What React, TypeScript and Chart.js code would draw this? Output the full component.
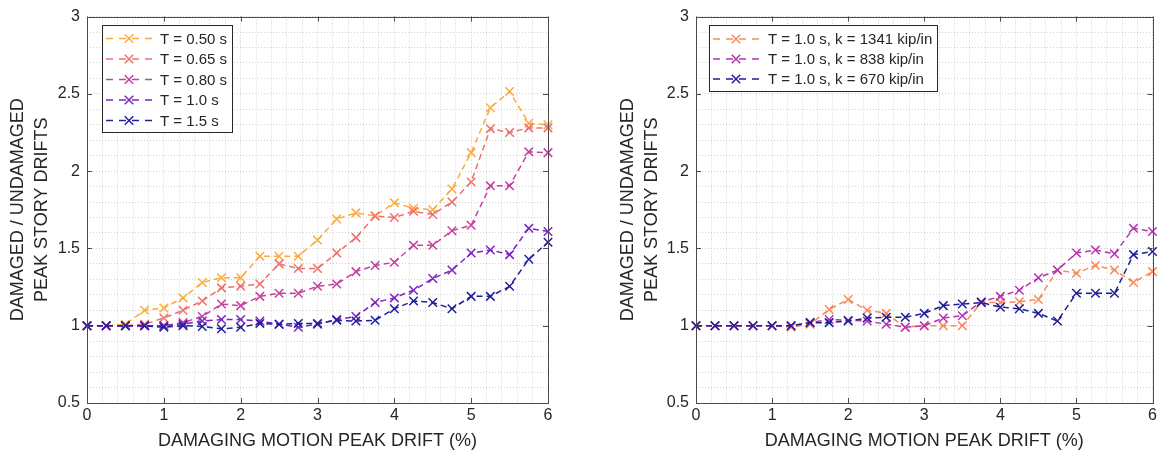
import React, { useEffect, useRef } from 'react';
import { Chart, registerables } from 'chart.js';

Chart.register(...registerables);

// ---------- data ----------
const DRIFT = [0, 0.25, 0.5, 0.75, 1, 1.25, 1.5, 1.75, 2, 2.25, 2.5, 2.75, 3, 3.25, 3.5, 3.75, 4, 4.25, 4.5, 4.75, 5, 5.25, 5.5, 5.75, 6];

const T050 = [1, 1, 1.01, 1.1, 1.115, 1.18, 1.28, 1.31, 1.31, 1.45, 1.45, 1.45, 1.555, 1.69, 1.73, 1.71, 1.795, 1.76, 1.75, 1.885, 2.12, 2.41, 2.515, 2.31, 2.3];
const T065 = [1, 1, 1, 1.01, 1.05, 1.1, 1.16, 1.245, 1.256, 1.27, 1.4, 1.37, 1.37, 1.47, 1.57, 1.71, 1.7, 1.74, 1.72, 1.8, 1.93, 2.275, 2.25, 2.28, 2.28];
const T080 = [1, 1, 1, 1, 1.0, 1.02, 1.06, 1.14, 1.13, 1.19, 1.21, 1.21, 1.255, 1.27, 1.35, 1.39, 1.41, 1.52, 1.52, 1.615, 1.65, 1.905, 1.905, 2.125, 2.12];
const T100 = [1, 1, 1, 1, 1.0, 1.01, 1.03, 1.04, 1.04, 1.03, 1.01, 0.99, 1.01, 1.04, 1.06, 1.15, 1.18, 1.23, 1.305, 1.36, 1.47, 1.49, 1.46, 1.63, 1.61];
const T150 = [1, 1, 1, 1, 0.99, 1.0, 0.995, 0.98, 0.99, 1.015, 1.01, 1.015, 1.015, 1.035, 1.03, 1.035, 1.11, 1.16, 1.15, 1.11, 1.19, 1.19, 1.255, 1.43, 1.54];

const K1341 = [1, 1, 1, 1, 1, 0.99, 1.01, 1.105, 1.17, 1.1, 1.08, 0.99, 1.0, 1.0, 1.0, 1.15, 1.15, 1.155, 1.17, 1.36, 1.34, 1.39, 1.36, 1.28, 1.35];
const K838 = [1, 1, 1, 1, 1, 1, 1.02, 1.04, 1.035, 1.03, 1.01, 0.99, 1.0, 1.05, 1.065, 1.155, 1.19, 1.23, 1.31, 1.36, 1.47, 1.49, 1.465, 1.63, 1.61];
const K670 = [1, 1, 1, 1, 1, 1, 1.02, 1.02, 1.03, 1.05, 1.055, 1.055, 1.08, 1.13, 1.14, 1.15, 1.12, 1.11, 1.08, 1.03, 1.21, 1.21, 1.21, 1.46, 1.48];

const LEFT_LABELS = ['T = 0.50 s', 'T = 0.65 s', 'T = 0.80 s', 'T = 1.0 s', 'T = 1.5 s'];
const LEFT_COLORS = ['#FDAA3C', '#EE716C', '#C5409F', '#7B24C4', '#20209C'];
const RIGHT_LABELS = ['T = 1.0 s, k = 1341 kip/in', 'T = 1.0 s, k = 838 kip/in', 'T = 1.0 s, k = 670 kip/in'];
const RIGHT_COLORS = ['#F7895A', '#B535B3', '#1F1F96'];

const X_TITLE = 'DAMAGING MOTION PEAK DRIFT (%)';
const Y_TITLE = ['DAMAGED / UNDAMAGED', 'PEAK STORY DRIFTS'];

const FONT = "'Liberation Sans', Arial, Helvetica, sans-serif";
const TEXT = '#262626';

// ---------- plugins ----------
function drawCross(ctx: CanvasRenderingContext2D, x: number, y: number, r: number) {
  const d = r * Math.SQRT1_2;
  ctx.beginPath();
  ctx.moveTo(x - d, y - d);
  ctx.lineTo(x + d, y + d);
  ctx.moveTo(x + d, y - d);
  ctx.lineTo(x - d, y + d);
  ctx.stroke();
}

const framePlugin = {
  id: 'frame',
  afterDatasetsDraw(chart: any) {
    const { ctx, chartArea: a, scales } = chart;
    ctx.save();
    ctx.strokeStyle = '#4a4a4a';
    ctx.lineWidth = 1;
    ctx.setLineDash([]);
    ctx.strokeRect(Math.round(a.left) + 0.5, Math.round(a.top) + 0.5, Math.round(a.right - a.left), Math.round(a.bottom - a.top));
    const L = 5;
    ctx.beginPath();
    for (let v = 0; v <= 6; v += 1) {
      const px = Math.round(scales.x.getPixelForValue(v)) + 0.5;
      ctx.moveTo(px, a.bottom);
      ctx.lineTo(px, a.bottom - L);
      ctx.moveTo(px, a.top);
      ctx.lineTo(px, a.top + L);
    }
    for (let i = 0; i <= 5; i++) {
      const v = 0.5 + i * 0.5;
      const py = Math.round(scales.y.getPixelForValue(v)) + 0.5;
      ctx.moveTo(a.left, py);
      ctx.lineTo(a.left + L, py);
      ctx.moveTo(a.right, py);
      ctx.lineTo(a.right - L, py);
    }
    ctx.stroke();
    ctx.restore();
  },
  afterDraw(chart: any, _args: any, opts: any) {
    const lg = opts.legend;
    if (!lg) return;
    const { ctx } = chart;
    ctx.save();
    ctx.fillStyle = '#ffffff';
    ctx.fillRect(lg.x, lg.y, lg.w, lg.h);
    ctx.strokeStyle = '#262626';
    ctx.lineWidth = 1;
    ctx.strokeRect(lg.x + 0.5, lg.y + 0.5, lg.w, lg.h);
    ctx.font = `15px ${FONT}`;
    ctx.textBaseline = 'middle';
    ctx.textAlign = 'left';
    lg.labels.forEach((label: string, i: number) => {
      const y = lg.row0 + i * lg.gap;
      ctx.strokeStyle = lg.colors[i];
      ctx.lineWidth = 1.5;
      ctx.setLineDash([7, 6]);
      ctx.beginPath();
      ctx.moveTo(lg.line0, y);
      ctx.lineTo(lg.line1, y);
      ctx.stroke();
      ctx.setLineDash([]);
      drawCross(ctx, (lg.line0 + lg.line1) / 2, y, 6);
      ctx.fillStyle = TEXT;
      ctx.fillText(label, lg.text, y + 1);
    });
    ctx.restore();
  },
};

// ---------- config ----------
function makeConfig(series: number[][], colors: string[], yAxisWidth: number, yTitlePad: number, padRight: number, legend: any) {
  const n = series.length;
  return {
    type: 'line' as const,
    data: {
      datasets: series.map((vals, i) => ({
        data: DRIFT.map((x, j) => ({ x, y: vals[j] })),
        borderColor: colors[i],
        backgroundColor: colors[i],
        borderWidth: 1.5,
        borderDash: [6, 4],
        pointStyle: 'crossRot',
        pointRadius: 6,
        pointBorderWidth: 1.5,
        pointHoverRadius: 6,
        fill: false,
        tension: 0,
        clip: false,
        order: n - i,
      })),
    },
    options: {
      responsive: false,
      maintainAspectRatio: false,
      animation: false,
      devicePixelRatio: 1,
      layout: { padding: { top: 13, right: padRight, left: 0, bottom: 0 } },
      plugins: {
        legend: { display: false },
        tooltip: { enabled: false },
        frame: { legend },
      },
      scales: {
        x: {
          type: 'linear',
          min: 0,
          max: 6,
          ticks: {
            stepSize: 0.2,
            autoSkip: false,
            maxRotation: 0,
            padding: 3,
            color: TEXT,
            font: { family: FONT, size: 16 },
            callback: (v: number) => (Math.abs(v - Math.round(v)) < 1e-6 ? String(Math.round(v)) : ''),
          },
          grid: { color: 'rgba(0,0,0,0.18)', lineWidth: 1, drawTicks: false },
          border: { display: false, dash: [1, 2] },
          title: {
            display: true,
            text: X_TITLE,
            color: TEXT,
            font: { family: FONT, size: 18, lineHeight: 1.33 },
            padding: { top: 0, bottom: 6 },
          },
          afterFit: (s: any) => { s.height = 56; },
        },
        y: {
          type: 'linear',
          min: 0.5,
          max: 3,
          ticks: {
            stepSize: 0.1,
            autoSkip: false,
            padding: 7,
            color: TEXT,
            font: { family: FONT, size: 16 },
            callback: (v: number) => (Math.abs(v * 2 - Math.round(v * 2)) < 1e-6 ? String(+v.toFixed(1)) : ''),
          },
          grid: { color: 'rgba(0,0,0,0.18)', lineWidth: 1, drawTicks: false },
          border: { display: false, dash: [1, 2] },
          title: {
            display: true,
            text: Y_TITLE,
            color: TEXT,
            font: { family: FONT, size: 18, lineHeight: 1.33 },
            padding: { top: yTitlePad, bottom: 0 },
          },
          afterFit: (s: any) => { s.width = yAxisWidth; },
        },
      },
    },
    plugins: [framePlugin],
  };
}

export default function App() {
  const leftRef = useRef<HTMLCanvasElement | null>(null);
  const rightRef = useRef<HTMLCanvasElement | null>(null);

  useEffect(() => {
    const leftLegend = {
      x: 102, y: 25, w: 130, h: 107, row0: 38.5, gap: 20.5, line0: 106, line1: 152, text: 160,
      labels: LEFT_LABELS, colors: LEFT_COLORS,
    };
    const rightLegend = {
      x: 134, y: 25, w: 228, h: 66, row0: 39, gap: 20, line0: 138, line1: 184, text: 193,
      labels: RIGHT_LABELS, colors: RIGHT_COLORS,
    };
    const c1 = new Chart(leftRef.current as HTMLCanvasElement, makeConfig([T050, T065, T080, T100, T150], LEFT_COLORS, 87, 6, 22, leftLegend) as any);
    const c2 = new Chart(rightRef.current as HTMLCanvasElement, makeConfig([K1341, K838, K670], RIGHT_COLORS, 121, 41, 5, rightLegend) as any);
    return () => {
      c1.destroy();
      c2.destroy();
    };
  }, []);

  return (
    <div style={{ position: 'fixed', left: 0, top: 0, width: 1160, height: 459, background: '#ffffff' }}>
      <div style={{ position: 'absolute', left: 0, top: 0, width: 570, height: 459 }}>
        <canvas ref={leftRef} width={570} height={459} style={{ width: 570, height: 459, display: 'block' }} />
      </div>
      <div style={{ position: 'absolute', left: 575, top: 0, width: 585, height: 459 }}>
        <canvas ref={rightRef} width={585} height={459} style={{ width: 585, height: 459, display: 'block' }} />
      </div>
    </div>
  );
}
